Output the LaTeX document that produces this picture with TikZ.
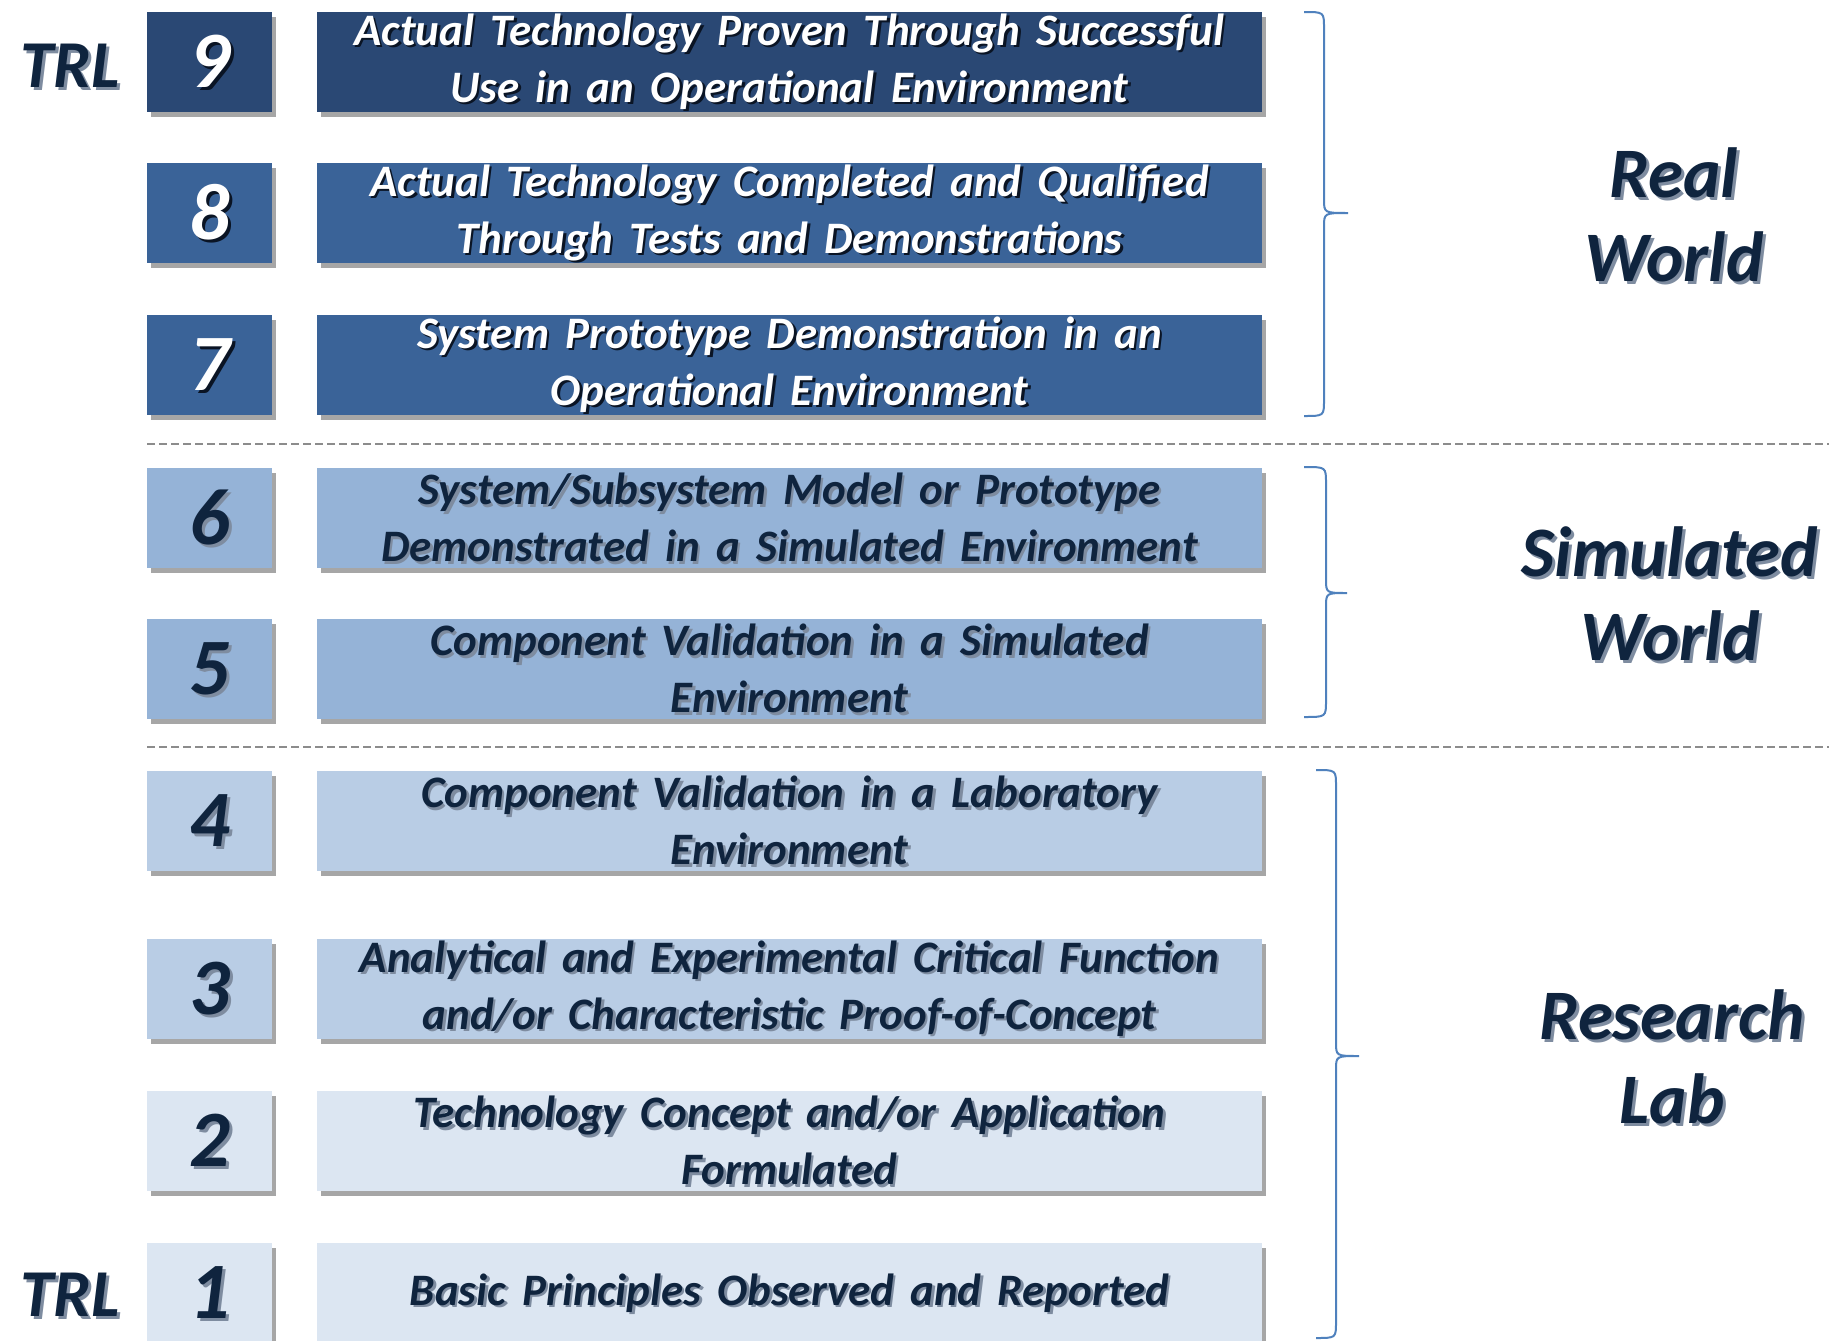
\documentclass[tikz,border=0pt]{standalone}
\usepackage{fontspec}
\setmainfont{Carlito}[WordSpace=1.6]
\usetikzlibrary{shadows,calc}
\definecolor{cNine}{HTML}{2A4874}
\definecolor{cSeven}{HTML}{3A6398}
\definecolor{cFive}{HTML}{95B3D7}
\definecolor{cThree}{HTML}{B9CDE5}
\definecolor{cOne}{HTML}{DCE6F2}
\definecolor{navy}{HTML}{0F243E}
\definecolor{darkshadow}{HTML}{0A1424}
\definecolor{lightshadow}{HTML}{7E8CA0}
\definecolor{braceblue}{HTML}{4F81BD}
\definecolor{sepgray}{HTML}{8C8C8C}

\newcommand\trlrow[6]{%
  \node[numbox, fill=#3] (n#1) at (209.5,#2) {};
  \node[txtbox, fill=#3] (b#1) at (789.5,#2) {};
  \node[numtext, text=#5, xshift=3pt, yshift=-3pt] (n#1s) at (n#1.center) {#1};
  \node[numtext, text=#4] (n#1t) at (n#1.center) {#1};
  \node[boxtext, text=#5, xshift=2.5pt, yshift=-2.5pt] (b#1s) at (b#1.center) {#6};
  \node[boxtext, text=#4] (b#1t) at (b#1.center) {#6};
}
\newcommand\ofbrace[6]{%
  \draw[bracestyle] (#1,#4) .. controls (#2,#4) .. (#2,#4+16) -- (#2,#5-14)
    .. controls (#2,#5) .. (#3,#5) .. controls (#2,#5) .. (#2,#5+14)
    -- (#2,#6-16) .. controls (#2,#6) .. (#1,#6);
}
\newcommand\shlabel[5]{%
  \node[#4, text=lightshadow, xshift=3pt, yshift=-3pt] (#1s) at #2 {#5};
  \node[#4, text=#3] (#1) at #2 {#5};
}

\begin{document}
\begin{tikzpicture}[x=1pt,y=-1pt,
  boxshadow/.style={drop shadow={shadow xshift=4pt,shadow yshift=-5pt,opacity=0.35,fill=black}},
  numbox/.style={rectangle, minimum width=125pt, minimum height=100pt, inner sep=0pt, draw=none, boxshadow},
  txtbox/.style={rectangle, minimum width=945pt, minimum height=100pt, inner sep=0pt, draw=none, boxshadow},
  boxtext/.style={font=\fontsize{45}{57}\selectfont\bfseries\itshape, align=center, inner sep=0pt},
  numtext/.style={font=\fontsize{80}{84}\selectfont\bfseries\itshape, inner sep=0pt},
  labeltext/.style={font=\fontsize{71}{84}\selectfont\bfseries\itshape, align=center, inner sep=0pt},
  trltext/.style={font=\fontsize{67}{70}\selectfont\bfseries\itshape, inner sep=0pt},
  bracestyle/.style={draw=braceblue, line width=2pt},
  sepline/.style={draw=sepgray, line width=1.8pt, dash pattern=on 8pt off 4pt}
]
\useasboundingbox[fill=white] (0,0) rectangle (1829,1341);

\trlrow{9}{61.5}{cNine}{white}{darkshadow}{Actual Technology Proven Through Successful\\Use in an Operational Environment}
\trlrow{8}{212.5}{cSeven}{white}{darkshadow}{Actual Technology Completed and Qualified\\Through Tests and Demonstrations}
\trlrow{7}{364.5}{cSeven}{white}{darkshadow}{System Prototype Demonstration in an\\Operational Environment}
\trlrow{6}{517.5}{cFive}{navy}{lightshadow}{System/Subsystem Model or Prototype\\Demonstrated in a Simulated Environment}
\trlrow{5}{668.5}{cFive}{navy}{lightshadow}{Component Validation in a Simulated\\Environment}
\trlrow{4}{820.5}{cThree}{navy}{lightshadow}{Component Validation in a Laboratory\\Environment}
\trlrow{3}{988.5}{cThree}{navy}{lightshadow}{Analytical and Experimental Critical Function\\and/or Characteristic Proof-of-Concept}
\trlrow{2}{1140.5}{cOne}{navy}{lightshadow}{Technology Concept and/or Application\\Formulated}
\trlrow{1}{1293}{cOne}{navy}{lightshadow}{Basic Principles Observed and Reported}

\draw[sepline] (147,444) -- (1829,444);
\draw[sepline] (147,747) -- (1829,747);

\ofbrace{1304}{1324}{1348}{12}{213}{416}
\ofbrace{1304}{1326}{1347}{467}{593}{717}
\ofbrace{1316}{1336}{1359}{770}{1056}{1338}

\shlabel{real}{(1674,215)}{navy}{labeltext}{Real\\World}
\shlabel{sim}{(1670,594)}{navy}{labeltext}{Simulated\\World}
\shlabel{lab}{(1672,1057)}{navy}{labeltext}{Research\\Lab}
\shlabel{trltop}{(70,66)}{navy}{trltext}{TRL}
\shlabel{trlbot}{(70,1295)}{navy}{trltext}{TRL}
\end{tikzpicture}
\end{document}
